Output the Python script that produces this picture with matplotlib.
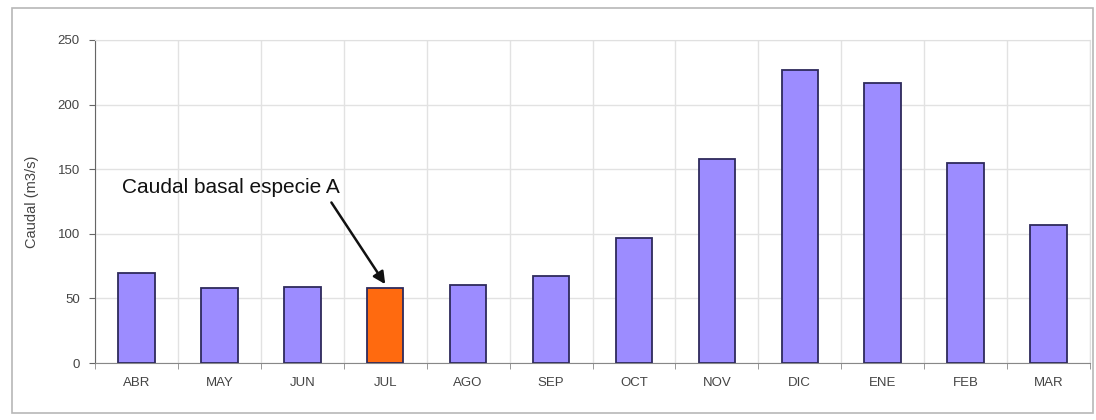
import numpy as np
import matplotlib.pyplot as plt
from matplotlib.patches import Rectangle

plt.rcParams['font.family'] = ['Liberation Sans', 'DejaVu Sans']

meses = ['ABR', 'MAY', 'JUN', 'JUL', 'AGO', 'SEP', 'OCT', 'NOV', 'DIC', 'ENE', 'FEB', 'MAR']
caudal = [70, 58, 59, 58, 60, 67, 97, 158, 227, 217, 155, 107]
mes_basal = 'JUL'

azul = '#9c8cff'
naranja = '#ff6a0f'
borde = '#2e2a5c'

fig = plt.figure(figsize=(10.96, 4.2), dpi=100)
ax = fig.add_axes([95 / 1096, 57 / 420, 995 / 1096, 323 / 420])

# outer frame of the chart
fig.patches.append(Rectangle((12 / 1096, 7 / 420), 1081 / 1096, 405 / 420,
                             transform=fig.transFigure, fill=False,
                             edgecolor='#b8b8b8', linewidth=1.2))

x = np.arange(len(meses))
colores = [naranja if m == mes_basal else azul for m in meses]
ax.bar(x, caudal, width=0.44, color=colores, edgecolor=borde, linewidth=1.3, zorder=3)

ax.set_xlim(-0.5, len(meses) - 0.5)
ax.set_ylim(0, 250)
ax.set_yticks(np.arange(0, 251, 50))
ax.set_xticks(x)
ax.set_xticklabels(meses)
ax.set_xticks(np.arange(-0.5, len(meses)), minor=True)

ax.grid(True, which='major', axis='y', color='#e2e2e2', linewidth=1, zorder=0)
ax.grid(True, which='minor', axis='x', color='#e2e2e2', linewidth=1, zorder=0)

ax.tick_params(axis='x', which='major', length=0, pad=10, labelsize=9.5, labelcolor='#444444')
ax.tick_params(axis='x', which='minor', length=4, color='#888888', direction='out')
ax.tick_params(axis='y', length=4, color='#666666', pad=7, labelsize=9.5, labelcolor='#444444')

for lado in ['top', 'right']:
    ax.spines[lado].set_color('#e0e0e0')
ax.spines['left'].set_color('#666666')
ax.spines['bottom'].set_color('#888888')

ax.set_ylabel('Caudal (m3/s)', fontsize=10.5, color='#444444', labelpad=13)

i = meses.index(mes_basal)
ax.annotate('Caudal basal especie A', xy=(i, caudal[i] + 3), xytext=(-0.17, 136),
            fontsize=15, color='#111111', ha='left', va='center',
            arrowprops=dict(arrowstyle='-|>', color='#111111', lw=1.8,
                            mutation_scale=18, shrinkA=0, shrinkB=0,
                            relpos=(0.96, -0.3)))

fig.savefig('out.png', dpi=100)
